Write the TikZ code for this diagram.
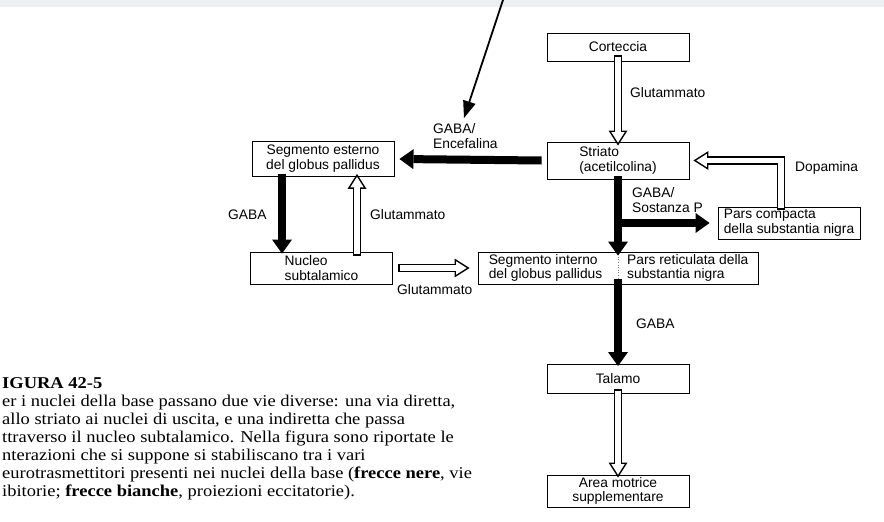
\documentclass[tikz,border=0pt]{standalone}
\usepackage{fontspec}
\newfontfamily\diagfont{Liberation Sans}
\newfontfamily\capfont[FakeStretch=1.12]{Liberation Serif}
\usetikzlibrary{arrows.meta,calc}
\definecolor{topgrey}{HTML}{EDEFF2}
\begin{document}
\begin{tikzpicture}[x=1pt,y=-1pt,
  dfont/.style={font=\diagfont\fontsize{13.8}{14.8}\selectfont},
  box/.style={draw, line width=0.9pt, minimum width=142pt, minimum height=29pt, inner sep=0pt, dfont, align=center},
  lbox/.style={box, align=left},
  lbl/.style={dfont, inner sep=0pt, anchor=west, align=left},
  blackarr/.style={line width=8pt, -{Triangle[length=14pt,width=20pt,line width=0pt]}},
  openarr/.style={line width=8.5pt, -{Triangle[length=15pt,width=19pt,line width=0pt]},
    postaction={draw, white, line width=5.1pt, -{Triangle[length=10.5pt,width=13.3pt,line width=0pt]}, shorten >=2.9pt, shorten <=1.7pt}},
  handarr/.style={line width=1.8pt, -{Triangle[length=17pt,width=13pt,line width=0pt]}},
]
\useasboundingbox (0,0) rectangle (884,522);
\fill[white] (0,0) rectangle (884,522);
\fill[topgrey] (0,0) rectangle (884,7);

% boxes
\node[box, minimum height=28pt] (cort) at (618,47) {Corteccia};
\node[lbox, minimum height=37pt] (str) at (618,160.5) {Striato\\(acetilcolina)};
\node[box, minimum height=35pt] (gpe) at (323,159) {Segmento esterno\\del globus pallidus};
\node[lbox, minimum height=32pt] (stn) at (321.5,268) {Nucleo\\subtalamico};
\node[box, minimum width=280pt, minimum height=32pt] (gpi) at (618,268) {};
\node[lbl] (gpit) at ([xshift=11pt]gpi.west) {Segmento interno\\del globus pallidus};
\node[lbl] (snrt) at ([xshift=9pt]gpi.center) {Pars reticulata della\\substantia nigra};
\draw[line width=0.6pt, dotted, gray] (gpi.north) -- (gpi.south);
\node[lbox, minimum height=32pt] (snc) at (789,223) {Pars compacta\\della substantia nigra};
\node[box, minimum height=29pt] (tal) at (618,379) {Talamo};
\node[box, minimum height=32pt] (sma) at (618,491) {Area motrice\\supplementare};

% connectors
\draw[openarr] ([yshift=6pt]cort.south) -- ([yshift=-4pt]str.north);
\draw[blackarr] ([xshift=-5pt]str.west) -- ([xshift=5pt]gpe.east);
\draw[blackarr] ([xshift=-41pt,yshift=3pt]gpe.south) -- ([xshift=-39.5pt,yshift=-2pt]stn.north);
\draw[openarr] ([xshift=35.5pt,yshift=-4pt]stn.north) -- ([xshift=34pt,yshift=3pt]gpe.south);
\draw[openarr] ([xshift=5pt]stn.east) -- ([xshift=-8pt]gpi.west);
\draw[blackarr] ([yshift=3pt]str.south) -- ([yshift=-4pt]gpi.north);
\draw[blackarr] (str.south |- snc.west) -- ([xshift=-8pt]snc.west);
\draw[openarr] ([xshift=-8pt,yshift=-3pt]snc.north) |- ([xshift=4pt]str.east);
\draw[blackarr] ([yshift=5pt]gpi.south) -- ([yshift=-2pt]tal.north);
\draw[openarr] ([yshift=5pt]tal.south) -- ([yshift=-3pt]sma.north);

% hand-drawn arrow
\coordinate (handtop) at (503,0);
\coordinate (handtip) at (464,118);
\draw[handarr] (handtop) -- (handtip);

% labels
\node[lbl] (l1) at (630,93) {Glutammato};
\node[lbl] (l2) at (433,136) {GABA/\\Encefalina};
\node[lbl] (l3) at (228,215) {GABA};
\node[lbl] (l4) at (370,215) {Glutammato};
\node[lbl] (l5) at (397,290) {Glutammato};
\node[lbl] (l6) at (632,200) {GABA/\\Sostanza P};
\node[lbl] (l7) at (795,168) {Dopamina};
\node[lbl] (l8) at (636,324) {GABA};

% caption
\node[anchor=north west, inner sep=0pt, align=left, font=\capfont\fontsize{16.5}{18}\selectfont] (cap) at (2,377)
{\textbf{IGURA 42-5}\\
er i nuclei della base passano due vie diverse: una via diretta,\\
allo striato ai nuclei di uscita, e una indiretta che passa\\
ttraverso il nucleo subtalamico. Nella figura sono riportate le\\
nterazioni che si suppone si stabiliscano tra i vari\\
eurotrasmettitori presenti nei nuclei della base (\textbf{frecce nere}, vie\\
ibitorie; \textbf{frecce bianche}, proiezioni eccitatorie).};
\end{tikzpicture}
\end{document}
